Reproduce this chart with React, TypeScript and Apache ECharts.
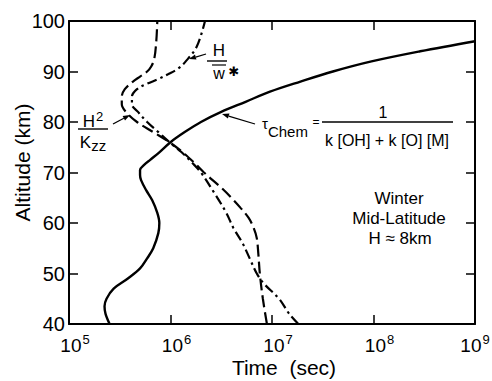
import React, { useEffect, useRef } from "react";
import * as echarts from "echarts";

// Solid curve: tau_chem  (altitude km, log10 time s)
const chemAlt = [40, 42, 43.5, 45, 47, 49, 51, 53, 55, 58, 60, 62, 64.5, 66.5, 68.5, 69.5, 70.5, 71.5, 72.5, 74, 76, 78, 80, 82, 84, 86, 88, 90, 92, 94, 96];
const chemExp = [5.40, 5.36, 5.35, 5.37, 5.44, 5.58, 5.70, 5.77, 5.83, 5.88, 5.89, 5.87, 5.82, 5.76, 5.71, 5.70, 5.70, 5.74, 5.80, 5.89, 6.00, 6.14, 6.30, 6.50, 6.74, 6.98, 7.28, 7.60, 7.98, 8.46, 9.0];

// Dashed curve: H^2 / Kzz
const kzzAlt = [40, 45, 50, 54, 57, 59, 61, 63, 65, 67, 70, 72, 74, 76, 78, 80, 82, 83.5, 85, 86.5, 88, 89, 90, 91, 92.5, 96, 100];
const kzzExp = [6.95, 6.91, 6.88, 6.865, 6.85, 6.82, 6.77, 6.69, 6.60, 6.50, 6.33, 6.23, 6.12, 5.99, 5.83, 5.67, 5.56, 5.52, 5.52, 5.55, 5.63, 5.70, 5.77, 5.81, 5.84, 5.86, 5.87];

// Dash-dot curve: H / w*
const wAlt = [40, 42, 45, 48, 50, 53, 56, 59, 62, 66, 70, 72, 74, 76, 78, 80, 82, 83.5, 85, 86.5, 87.5, 88.5, 89.5, 90.5, 92, 95, 100];
const wExp = [7.26, 7.17, 7.07, 6.92, 6.85, 6.78, 6.71, 6.62, 6.55, 6.43, 6.30, 6.21, 6.11, 5.99, 5.88, 5.77, 5.68, 5.62, 5.62, 5.67, 5.76, 5.88, 5.98, 6.07, 6.15, 6.26, 6.34];

const xMin = 1e5;
const xMax = 1e9;
const yMin = 40;
const yMax = 100;
const yStep = 10;

const FONT_NUM = "'Liberation Sans', Arial, sans-serif";
const FONT = "'Liberation Sans', Arial, sans-serif";

function pts(alt: number[], exp: number[]) {
  return alt.map((a, i) => [Math.pow(10, exp[i]), a]);
}

function arrow(x1: number, y1: number, x2: number, y2: number) {
  const ang = Math.atan2(y2 - y1, x2 - x1);
  const L = 7, W = 2.6;
  const bx = x2 - L * Math.cos(ang), by = y2 - L * Math.sin(ang);
  const px = -Math.sin(ang) * W, py = Math.cos(ang) * W;
  return [
    { type: "line", shape: { x1, y1, x2: bx, y2: by }, style: { stroke: "#000", lineWidth: 1.3 } },
    { type: "polygon", shape: { points: [[x2, y2], [bx + px, by + py], [bx - px, by - py]] }, style: { fill: "#000" } },
  ];
}

export default function App() {
  const ref = useRef<HTMLDivElement>(null);
  useEffect(() => {
    const chart = echarts.init(ref.current!, null, { renderer: "svg" });
    const axisLine = { show: true, onZero: false, lineStyle: { color: "#000", width: 2 } };
    const tick = { show: true, inside: true, length: 9, lineStyle: { color: "#000", width: 1.5 } };
    const txt = (x: number, y: number, text: string, size = 17, extra: any = {}) => ({
      type: "text", x, y,
      style: { text, font: `${size}px ${FONT}`, fill: "#000", align: "center", verticalAlign: "middle", ...extra },
    });
    const bar = (x1: number, y: number, x2: number, w = 1.3) => ({
      type: "line", shape: { x1, y1: y, x2, y2: y }, style: { stroke: "#000", lineWidth: w },
    });
    const option: any = {
      animation: false,
      backgroundColor: "#fff",
      grid: { left: 69, right: 17, top: 21, bottom: 57, containLabel: false, outerBoundsMode: "none" },
      xAxis: [
        {
          type: "log", logBase: 10, min: xMin, max: xMax, position: "bottom",
          axisLine, axisTick: tick, splitLine: { show: false }, minorTick: { show: false },
          name: "Time  (sec)", nameLocation: "middle", nameGap: 33, nameMoveOverlap: false,
          nameTextStyle: { fontFamily: FONT, fontSize: 21, color: "#000", padding: [0, 0, 0, 24] },
          axisLabel: {
            show: true, margin: 9, color: "#000",
            formatter: (v: number) => {
              const e = Math.round(Math.log10(v));
              return e >= 9 ? `{b|10}{s|${e}}` : `{p|}{b|10}{s|${e}}`;
            },
            rich: {
              p: { width: 12 },
              b: { fontFamily: FONT_NUM, fontSize: 19, color: "#000" },
              s: { fontFamily: FONT_NUM, fontSize: 13, color: "#000", padding: [0, 0, 12, 1] },
            },
          },
        },
        {
          type: "log", logBase: 10, min: xMin, max: xMax, position: "top",
          axisLine, axisTick: tick, splitLine: { show: false }, axisLabel: { show: false },
        },
      ],
      yAxis: [
        {
          type: "value", min: yMin, max: yMax, interval: yStep, position: "left",
          axisLine, axisTick: tick, splitLine: { show: false },
          name: "Altitude (km)", nameLocation: "middle", nameGap: 36, nameRotate: 90, nameMoveOverlap: false,
          nameTextStyle: { fontFamily: FONT, fontSize: 21, color: "#000", padding: [0, 0, 0, 20] },
          axisLabel: { show: true, margin: 4, color: "#000", fontFamily: FONT_NUM, fontSize: 20 },
        },
        {
          type: "value", min: yMin, max: yMax, interval: yStep, position: "right",
          axisLine, axisTick: tick, splitLine: { show: false }, axisLabel: { show: false },
        },
      ],
      series: [
        {
          type: "line", data: pts(chemAlt, chemExp), showSymbol: false, symbol: "none", smooth: 0.35,
          lineStyle: { color: "#000", width: 2.4, type: "solid" },
        },
        {
          type: "line", data: pts(kzzAlt, kzzExp), showSymbol: false, symbol: "none", smooth: 0.35,
          lineStyle: { color: "#000", width: 2.2, type: [12, 5] },
        },
        {
          type: "line", data: pts(wAlt, wExp), showSymbol: false, symbol: "none", smooth: 0.35,
          lineStyle: { color: "#000", width: 2.2, type: [10, 4, 2.5, 4] },
        },
      ],
      graphic: [
        // H / w*
        txt(219, 50, "H", 17),
        bar(207, 61, 227, 1.4),
        bar(212, 65, 226, 1.2),
        txt(219, 73, "w", 16),
        txt(234, 71, "✱", 13, { font: `bold 13px 'DejaVu Sans', sans-serif` }),
        ...arrow(206, 54, 189, 59),
        // H^2 / Kzz
        {
          type: "text", x: 93, y: 121,
          style: {
            text: "{h|H}{s|2}", align: "center", verticalAlign: "middle",
            rich: {
              h: { font: `17px ${FONT}`, fill: "#000" },
              s: { font: `13px ${FONT}`, fill: "#000", padding: [0, 0, 10, 1] },
            },
          },
        },
        bar(78, 129, 108, 1.4),
        {
          type: "text", x: 93, y: 142,
          style: {
            text: "{k|K}{z|zz}", align: "center", verticalAlign: "middle",
            rich: {
              k: { font: `17px ${FONT}`, fill: "#000" },
              z: { font: `15px ${FONT}`, fill: "#000", padding: [6, 0, 0, 0] },
            },
          },
        },
        ...arrow(113, 124, 130, 115),
        // tau_chem
        {
          type: "text", x: 262, y: 128,
          style: {
            text: "{t|τ}{c|Chem}", align: "left", verticalAlign: "middle",
            rich: {
              t: { font: `15px ${FONT}`, fill: "#000", padding: [0, 0, 10, 0] },
              c: { font: `15px ${FONT}`, fill: "#000", padding: [6, 0, 0, 0] },
            },
          },
        },
        txt(316, 122, "=", 12),
        txt(383, 112, "1", 16),
        bar(322, 122, 453, 1.3),
        txt(387, 140, "k [OH] + k [O] [M]", 16),
        ...arrow(255, 124, 222, 114),
        // Winter text
        txt(399, 198, "Winter", 17),
        txt(399, 218, "Mid-Latitude", 17),
        txt(400, 238, "H ≈ 8km", 17),
      ],
    };
    chart.setOption(option);
    return () => chart.dispose();
  }, []);
  return (
    <div
      ref={ref}
      style={{ position: "fixed", left: 0, top: 0, width: 492, height: 381, background: "#fff" }}
    />
  );
}
